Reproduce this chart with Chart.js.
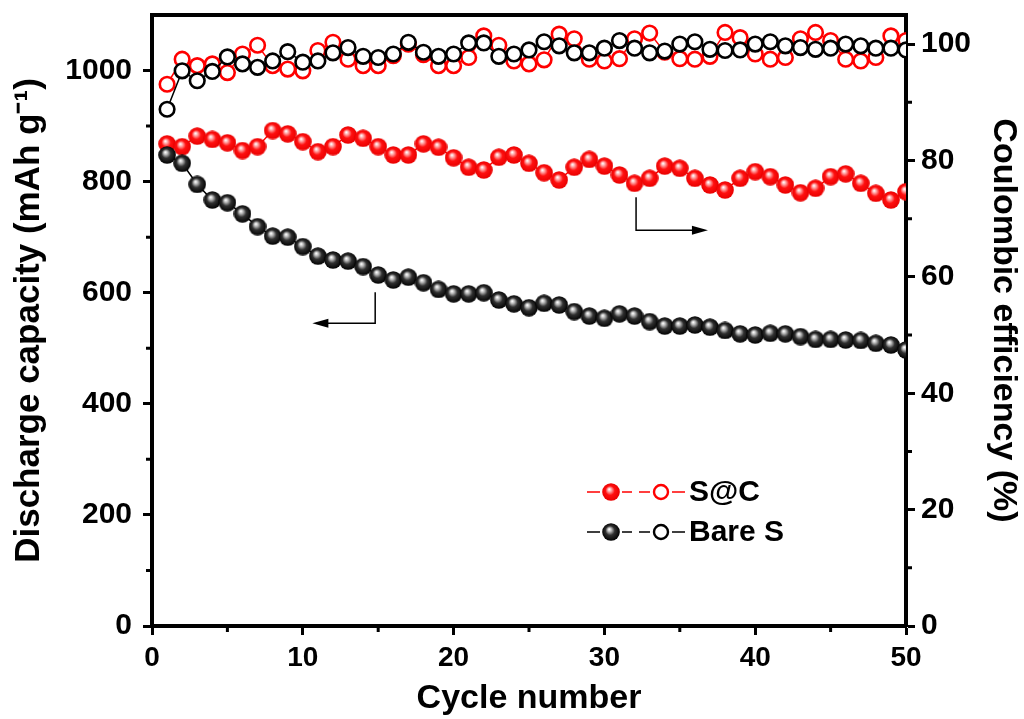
<!DOCTYPE html>
<html>
<head>
<meta charset="utf-8">
<script src="https://cdn.jsdelivr.net/npm/chart.js@4.4.1/dist/chart.umd.min.js"></script>
<style>
  html, body { margin: 0; background: #fff; }
</style>
</head>
<body>
<canvas id="chart" width="1024" height="719"></canvas>
<script>
const cycles = [1,2,3,4,5,6,7,8,9,10,11,12,13,14,15,16,17,18,19,20,21,22,23,24,25,
                26,27,28,29,30,31,32,33,34,35,36,37,38,39,40,41,42,43,44,45,46,47,48,49,50];

// discharge capacity, mAh/g
const sacCapacity = [868,863,882,876,870,856,863,892,886,872,854,863,884,878,863,848,848,868,862,843,826,821,844,848,833,
                     816,803,826,840,828,812,797,806,828,824,806,794,785,806,818,809,794,780,788,809,814,797,779,767,782];
const bareCapacity = [848,833,795,767,762,742,719,702,700,683,666,659,657,647,632,623,628,618,606,598,598,600,587,580,573,
                      581,578,566,558,554,562,558,548,540,540,542,538,532,526,524,527,526,521,516,516,515,514,509,506,497];

// coulombic efficiency, %
const sacCE = [93.1,97.4,96.3,96.6,95.1,98.3,99.8,96.3,95.7,95.4,98.9,100.3,97.4,96.3,96.3,98.0,100.0,98.2,96.3,96.3,97.7,101.4,99.8,97.1,96.6,
               97.3,101.7,100.9,97.4,97.1,97.5,100.9,101.9,98.6,97.5,97.4,97.9,102.0,101.1,98.3,97.4,97.7,100.9,102.0,100.6,97.4,97.1,97.7,101.4,100.6];
const bareCE = [88.8,95.4,93.7,95.3,97.8,96.6,96.0,97.1,98.7,96.9,97.1,98.5,99.4,97.9,97.7,98.3,100.3,98.6,97.9,98.3,100.2,100.2,97.9,98.3,99.0,
                100.4,99.7,98.5,98.5,99.3,100.6,99.3,98.5,98.8,100.0,100.4,99.1,98.9,99.0,100.0,100.4,99.7,99.4,99.1,99.3,100.0,99.7,99.3,99.3,99.0];

const xTicks = [0, 10, 20, 30, 40, 50];
const capTicks = [0, 200, 400, 600, 800, 1000];
const ceTicks = [0, 20, 40, 60, 80, 100];

const FONT = "'Liberation Sans', Arial, sans-serif";

// shaded ball used for the filled markers
function ball(stops) {
  const c = document.createElement("canvas");
  c.width = 18; c.height = 18;
  const g = c.getContext("2d");
  const grad = g.createRadialGradient(7.2, 6.2, 0.3, 9, 9, 9);
  stops.forEach(s => grad.addColorStop(s[0], s[1]));
  g.fillStyle = grad;
  g.beginPath();
  g.arc(9, 9, 8.8, 0, Math.PI * 2);
  g.fill();
  return c;
}
const redBall = ball([[0, "#ffffff"], [0.22, "#ff9a9a"], [0.5, "#ff1010"], [1, "#e80000"]]);
const blackBall = ball([[0, "#ffffff"], [0.2, "#b8b8b8"], [0.5, "#303030"], [1, "#000000"]]);

const pts = arr => cycles.map((c, i) => ({ x: c, y: arr[i] }));

function filledSet(label, arr, color, img) {
  return {
    label, data: pts(arr), yAxisID: "y",
    borderColor: color, borderWidth: 1.5,
    pointStyle: img, pointRadius: 9, pointHoverRadius: 9,
  };
}
function openSet(label, arr, color) {
  return {
    label, data: pts(arr), yAxisID: "y1",
    borderColor: color, borderWidth: 1.5,
    pointStyle: "circle", pointRadius: 7.3, pointHoverRadius: 7.3,
    pointBorderWidth: 2.6, pointBackgroundColor: "#fff", pointBorderColor: color,
  };
}

// vertical axes: no extra label padding, so the box top sits at layout padding
const noPad = w => s => { s.width = w; s.paddingTop = 0; s.paddingBottom = 0; };

// box top line, minor ticks, arrows and the legend
const decor = {
  id: "decor",
  afterDraw(chart) {
    const { ctx, chartArea: a, scales: { x, y, y1 } } = chart;
    ctx.save();
    ctx.strokeStyle = "#000";
    ctx.lineWidth = 4;
    ctx.beginPath();
    ctx.moveTo(a.left - 2, a.top);
    ctx.lineTo(a.right + 2, a.top);
    ctx.stroke();

    ctx.lineWidth = 3;
    ctx.beginPath();
    for (let v = 5; v < 50; v += 10) {
      const px = x.getPixelForValue(v);
      ctx.moveTo(px, a.bottom); ctx.lineTo(px, a.bottom + 6);
    }
    for (let v = 100; v < 1000; v += 200) {
      const py = y.getPixelForValue(v);
      ctx.moveTo(a.left, py); ctx.lineTo(a.left - 6, py);
    }
    for (let v = 10; v < 100; v += 20) {
      const py = y1.getPixelForValue(v);
      ctx.moveTo(a.right, py); ctx.lineTo(a.right + 6, py);
    }
    ctx.stroke();

    // arrows
    function arrow(x0, y0, y1p, x1) {
      ctx.lineWidth = 1.5;
      ctx.beginPath();
      ctx.moveTo(x0, y0); ctx.lineTo(x0, y1p); ctx.lineTo(x1, y1p);
      ctx.stroke();
      const d = x1 < x0 ? -1 : 1;
      ctx.beginPath();
      ctx.moveTo(x1 + d * 4, y1p);
      ctx.lineTo(x1 - d * 12, y1p - 4.5);
      ctx.lineTo(x1 - d * 12, y1p + 4.5);
      ctx.closePath();
      ctx.fillStyle = "#000";
      ctx.fill();
    }
    arrow(x.getPixelForValue(14.8), y.getPixelForValue(601), y.getPixelForValue(545), x.getPixelForValue(10.9));
    arrow(x.getPixelForValue(32.1), y1.getPixelForValue(73.7), y1.getPixelForValue(68.0), x.getPixelForValue(36.6));

    // legend
    const rows = [["S@C", "#ff0000", redBall, 492], ["Bare S", "#000000", blackBall, 532]];
    rows.forEach(([txt, col, img, ly]) => {
      ctx.strokeStyle = col;
      ctx.lineWidth = 1.5;
      ctx.beginPath();
      ctx.moveTo(587, ly); ctx.lineTo(600, ly);
      ctx.moveTo(622, ly); ctx.lineTo(632, ly);
      ctx.moveTo(639, ly); ctx.lineTo(650, ly);
      ctx.moveTo(672, ly); ctx.lineTo(685, ly);
      ctx.stroke();
      ctx.drawImage(img, 611 - 9, ly - 9);
      ctx.lineWidth = 2.4;
      ctx.fillStyle = "#fff";
      ctx.beginPath();
      ctx.arc(661, ly, 7, 0, Math.PI * 2);
      ctx.fill(); ctx.stroke();
      ctx.fillStyle = "#000";
      ctx.font = "bold 30px " + FONT;
      ctx.textBaseline = "middle";
      ctx.fillText(txt, 689, ly + 1);
    });
    ctx.restore();
  }
};

new Chart(document.getElementById("chart"), {
  type: "line",
  data: {
    datasets: [
      filledSet("Bare S", bareCapacity, "#000000", blackBall),
      openSet("Bare S CE", bareCE, "#000000"),
      filledSet("S@C", sacCapacity, "#ff0000", redBall),
      openSet("S@C CE", sacCE, "#ff0000"),
    ],
  },
  options: {
    responsive: false,
    animation: false,
    layout: { padding: { top: 15, left: 0, right: 0, bottom: 0 } },
    plugins: { legend: { display: false }, tooltip: { enabled: false } },
    scales: {
      x: {
        type: "linear", min: 0, max: 50,
        afterFit: s => { s.height = 93; },
        afterBuildTicks: s => { s.ticks = xTicks.map(v => ({ value: v })); },
        border: { display: true, width: 4, color: "#000" },
        grid: { drawOnChartArea: false, tickLength: 9, tickWidth: 3, tickColor: "#000" },
        ticks: { color: "#000", padding: 6, maxRotation: 0, callback: v => String(v),
                 font: { family: FONT, size: 28, weight: "bold" } },
        title: { display: true, text: "Cycle number", color: "#000", padding: { bottom: 0 },
                 font: { family: FONT, size: 34, weight: "bold" } },
      },
      y: {
        position: "left", min: 0, max: 1100,
        afterFit: noPad(152),
        afterBuildTicks: s => { s.ticks = capTicks.map(v => ({ value: v })); },
        border: { display: true, width: 4, color: "#000" },
        grid: { drawOnChartArea: false, tickLength: 9, tickWidth: 3, tickColor: "#000" },
        ticks: { color: "#000", padding: 11, callback: v => String(v),
                 font: { family: FONT, size: 30, weight: "bold" } },
        title: { display: true, text: "Discharge capacity (mAh g\u207B\u00B9)", color: "#000", padding: { top: 8 },
                 font: { family: FONT, size: 35, weight: "bold" } },
      },
      y1: {
        position: "right", min: 0, max: 105,
        afterFit: noPad(118),
        afterBuildTicks: s => { s.ticks = ceTicks.map(v => ({ value: v })); },
        border: { display: true, width: 4, color: "#000" },
        grid: { drawOnChartArea: false, tickLength: 9, tickWidth: 3, tickColor: "#000" },
        ticks: { color: "#000", padding: 6, callback: v => String(v),
                 font: { family: FONT, size: 30, weight: "bold" } },
        title: { display: true, text: "Coulombic efficiency (%)", color: "#000", padding: { top: 0 },
                 font: { family: FONT, size: 34, weight: "bold" } },
      },
    },
  },
  plugins: [decor],
});
</script>
</body>
</html>
